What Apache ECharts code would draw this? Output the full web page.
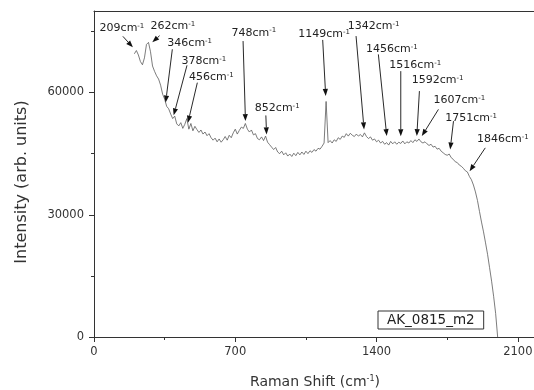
<!DOCTYPE html>
<html>
<head>
<meta charset="utf-8">
<script src="https://cdn.jsdelivr.net/npm/echarts@6/dist/echarts.min.js"></script>
<style>
  html, body { margin: 0; padding: 0; background: #fff; }
  #chart { width: 534px; height: 390px; }
</style>
</head>
<body>
<div id="chart"></div>
<script>
// Raman spectrum AK_0815_m2, sampled every 10 cm-1 from 200 to 2000 cm-1
const shiftStart = 200;
const shiftStep = 10;
const intensity = [
  69500,70300,69200,67600,66800,68500,71800,72300,70000,66500,
  65200,64100,63300,61800,59600,58400,56600,56000,54700,53600,
  54200,52300,51800,52600,51200,52200,53600,51000,52400,50600,
  51700,50900,50200,50800,49800,50300,49400,49900,48900,48300,
  48800,47900,48600,47800,48400,49200,48300,49500,48900,50100,
  51000,49800,50700,51500,51200,52400,51000,50300,50800,49600,
  49900,48700,48400,49100,48200,49300,47800,47200,46600,46000,
  46500,45400,45000,45600,44700,45200,44400,44900,44300,45100,
  44500,45300,44700,45400,44800,45600,45000,45700,45300,46000,
  45600,46300,46100,46800,47600,57800,47700,48200,47600,48400,
  48000,48900,48500,49300,49000,49900,49300,50000,49500,49200,
  49800,49300,49700,49100,50100,49200,48700,49100,48300,48600,
  47900,48300,47600,48000,47300,47700,47100,48000,47400,47900,
  47300,47800,47500,48100,47400,47900,47600,48200,47700,48400,
  48000,48600,47900,47600,47900,47400,47000,47300,46600,46800,
  46100,46300,45600,45200,44800,44600,44900,44000,43600,43000,
  42800,42200,41900,41400,40800,40500,39400,38600,37300,35600,
  33500,30800,28200,25800,23100,20300,17000,13700,10000,5800,
  0
];
const shift = intensity.map((_, i) => shiftStart + shiftStep * i);

// Assigned band positions (cm-1)
const peaks = [209, 262, 346, 378, 456, 748, 852, 1149, 1342, 1456, 1516, 1592, 1607, 1751, 1846];

// Axis ticks
const xTicks = [0, 700, 1400, 2100];
const xMinorTicks = [350, 1050, 1750];
const yTicks = [0, 30000, 60000];
const yMinorTicks = [15000, 45000, 75000];

const sampleName = 'AK_0815_m2';

// Pixel offsets of arrow tip, arrow tail and label (left/middle) from the band on the curve
const calloutLayout = [
  { tip: [-3.3, -3.5], tail: [-13.3, -14.5], text: [-36.6, -22.5] },
  { tip: [5.4, -1.7],  tail: [12.7, -8.3],   text: [3.7, -18.3] },
  { tip: [1.8, 5.5],   tail: [8.5, -47.8],   text: [3.5, -53.5] },
  { tip: [3.4, 2.3],   tail: [16.7, -47.7],  text: [11.1, -52] },
  { tip: [1.9, 1.8],   tail: [11.3, -38.2],  text: [2.9, -43.8] },
  { tip: [0.5, -3.4],  tail: [-1.9, -83.4],  text: [-13.5, -91.8] },
  { tip: [0.6, -2.9],  tail: [-0.1, -21.9],  text: [-11.1, -29.6] },
  { tip: [-0.2, -9.7], tail: [-3.2, -65.7],  text: [-27.6, -71.4] },
  { tip: [-0.8, -4.2], tail: [-8.8, -97.5],  text: [-17.1, -107.5] },
  { tip: [-1.1, -8],   tail: [-9.5, -89.7],  text: [-21.8, -95.4] },
  { tip: [0.8, -6.8],  tail: [0.8, -71.8],   text: [-10.6, -77.8] },
  { tip: [1.5, -4],    tail: [4.1, -49],     text: [-3.5, -59.7] },
  { tip: [3.5, -3.6],  tail: [20.1, -30.3],  text: [15.1, -39.6] },
  { tip: [2.8, -5.7],  tail: [6.1, -34],     text: [-2.2, -37.4] },
  { tip: [3, -0.2],    tail: [18.7, -23.6],  text: [10.4, -31.9] }
];

// Intensity on the measured curve at a given shift (for placing callouts)
function curveAt(x) {
  const f = (x - shiftStart) / shiftStep;
  const i = Math.max(0, Math.min(intensity.length - 2, Math.floor(f)));
  const t = f - i;
  return intensity[i] * (1 - t) + intensity[i + 1] * t;
}

const FONT = 'DejaVu Sans';
const AXIS_COLOR = '#333';
const plain = v => String(v);

const chart = echarts.init(document.getElementById('chart'), null, { renderer: 'canvas' });

const xBase = { type: 'value', min: 0, max: 2190, splitLine: { show: false } };
const yBase = { type: 'value', min: 0, max: 80000, splitLine: { show: false } };

chart.setOption({
  animation: false,
  backgroundColor: '#fff',
  // plot area runs slightly past the right canvas edge
  grid: {
    left: 94, right: -2, top: 11, bottom: 53,
    containLabel: false, outerBoundsMode: 'none'
  },
  legend: {
    left: 378, top: 311,
    data: [{ name: sampleName, icon: 'none' }],
    itemWidth: 0, itemHeight: 13,
    padding: [2, 9, 2, 4],
    borderColor: AXIS_COLOR, borderWidth: 1,
    selectedMode: false,
    textStyle: { fontFamily: FONT, fontSize: 13.5, color: '#222' }
  },
  xAxis: [
    Object.assign({}, xBase, {
      position: 'bottom',
      name: '{t|Raman Shift (cm}{s|-1}{t|)}',
      nameLocation: 'middle',
      nameGap: 38,
      nameTextStyle: {
        rich: {
          t: { fontFamily: FONT, fontSize: 14, color: AXIS_COLOR },
          s: { fontFamily: FONT, fontSize: 8, color: AXIS_COLOR, verticalAlign: 'top' }
        }
      },
      axisLine: { show: true, onZero: false, lineStyle: { color: AXIS_COLOR, width: 1 } },
      axisTick: { show: true, inside: false, length: 5, customValues: xTicks, lineStyle: { color: AXIS_COLOR } },
      axisLabel: { show: true, customValues: xTicks, formatter: plain, margin: 9, fontFamily: FONT, fontSize: 11.5, color: AXIS_COLOR }
    }),
    // minor ticks along the bottom edge
    Object.assign({}, xBase, {
      position: 'bottom',
      axisLine: { show: false, onZero: false },
      axisTick: { show: true, inside: false, length: 3, customValues: xMinorTicks, lineStyle: { color: AXIS_COLOR } },
      axisLabel: { show: false }
    }),
    // top edge of the frame
    Object.assign({}, xBase, {
      position: 'top',
      axisLine: { show: true, onZero: false, lineStyle: { color: AXIS_COLOR, width: 1 } },
      axisTick: { show: false },
      axisLabel: { show: false }
    })
  ],
  yAxis: [
    Object.assign({}, yBase, {
      position: 'left',
      name: 'Intensity (arb. units)',
      nameLocation: 'middle',
      nameGap: 64,
      nameTextStyle: { fontFamily: FONT, fontSize: 16, color: AXIS_COLOR, padding: [0, 16, 0, 0] },
      axisLine: { show: true, onZero: false, lineStyle: { color: AXIS_COLOR, width: 1 } },
      axisTick: { show: true, inside: false, length: 5, customValues: yTicks, lineStyle: { color: AXIS_COLOR } },
      axisLabel: { show: true, customValues: yTicks, formatter: plain, margin: 10, fontFamily: FONT, fontSize: 11.5, color: AXIS_COLOR }
    }),
    // minor ticks along the left edge
    Object.assign({}, yBase, {
      position: 'left',
      axisLine: { show: false, onZero: false },
      axisTick: { show: true, inside: false, length: 3, customValues: yMinorTicks, lineStyle: { color: AXIS_COLOR } },
      axisLabel: { show: false }
    })
  ],
  series: [
    {
      name: sampleName,
      type: 'line',
      xAxisIndex: 0, yAxisIndex: 0,
      data: shift.map((x, i) => [x, intensity[i]]),
      showSymbol: false,
      symbol: 'none',
      lineStyle: { color: '#5a5a5a', width: 0.8 },
      itemStyle: { color: '#5a5a5a' },
      z: 2
    },
    {
      type: 'custom',
      xAxisIndex: 0, yAxisIndex: 0,
      clip: false,
      z: 3,
      encode: { x: 0, y: 1 },
      data: peaks.map(p => [p, curveAt(p)]),
      renderItem: function (params, api) {
        const i = params.dataIndex;
        const a = api.coord([api.value(0), api.value(1)]);
        const L = calloutLayout[i];
        const tip = [a[0] + L.tip[0], a[1] + L.tip[1]];
        const tail = [a[0] + L.tail[0], a[1] + L.tail[1]];
        const dx = tip[0] - tail[0], dy = tip[1] - tail[1];
        const len = Math.sqrt(dx * dx + dy * dy) || 1;
        const ux = dx / len, uy = dy / len;
        const headLen = 7, headHalf = 2.6;
        const base = [tip[0] - ux * headLen, tip[1] - uy * headLen];
        const p1 = [base[0] - uy * headHalf, base[1] + ux * headHalf];
        const p2 = [base[0] + uy * headHalf, base[1] - ux * headHalf];
        return {
          type: 'group',
          children: [
            {
              type: 'line',
              shape: { x1: tail[0], y1: tail[1], x2: base[0], y2: base[1] },
              style: { stroke: '#111', lineWidth: 0.9 }
            },
            {
              type: 'polygon',
              shape: { points: [tip, p1, p2] },
              style: { fill: '#111' }
            },
            {
              type: 'text',
              x: a[0] + L.text[0],
              y: a[1] + L.text[1],
              style: {
                text: '{n|' + peaks[i] + 'cm}{s|-1}',
                align: 'left',
                verticalAlign: 'middle',
                rich: {
                  n: { fontFamily: FONT, fontSize: 11, fill: '#222' },
                  s: { fontFamily: FONT, fontSize: 7, fill: '#222', verticalAlign: 'top' }
                }
              }
            }
          ]
        };
      }
    }
  ]
});
</script>
</body>
</html>
